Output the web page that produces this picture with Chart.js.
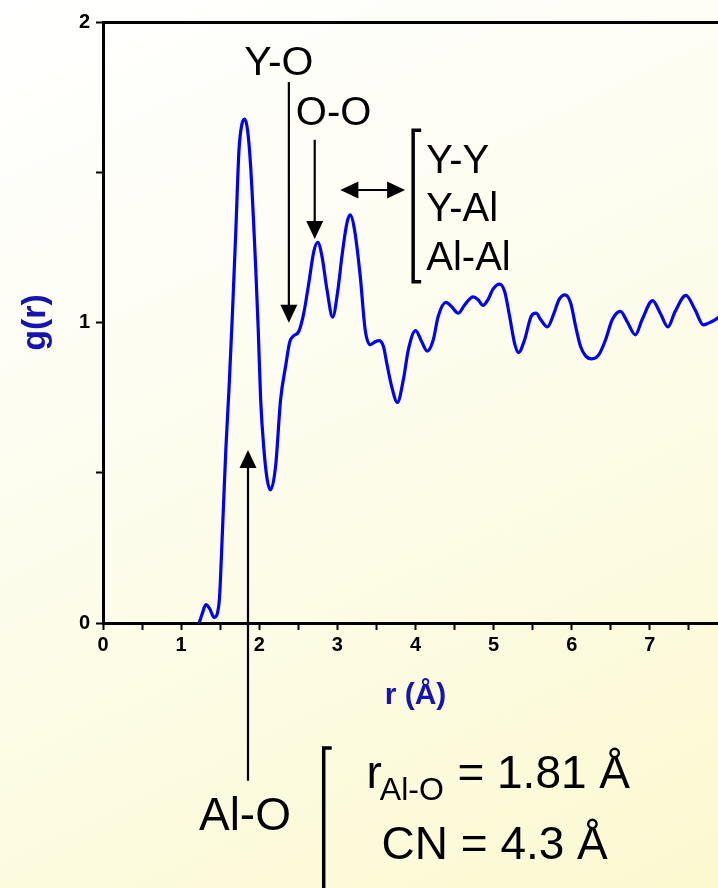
<!DOCTYPE html>
<html>
<head>
<meta charset="utf-8">
<script src="https://cdn.jsdelivr.net/npm/chart.js@4"></script>
<style>
  html, body { margin: 0; padding: 0; overflow: hidden; width: 718px; height: 888px; }
  body { background: linear-gradient(155deg, #ffffff 0%, #fdfdf0 40%, #fcf9d0 100%); }
  #wrap { width: 731px; height: 888px; }
</style>
</head>
<body>
<div id="wrap"><canvas id="myChart" width="731" height="888"></canvas></div>
<script>
// radial distribution function g(r)
const rValues = [1.231, 1.270, 1.317, 1.365, 1.423, 1.486, 1.528, 1.572, 1.614, 1.656,
  1.699, 1.741, 1.779, 1.814, 1.850, 1.890, 1.954, 1.987, 2.018, 2.060,
  2.102, 2.145, 2.209, 2.273, 2.337, 2.391, 2.442, 2.506, 2.570, 2.634,
  2.698, 2.749, 2.803, 2.867, 2.939, 3.007, 3.058, 3.122, 3.165, 3.220,
  3.293, 3.356, 3.420, 3.484, 3.535, 3.590, 3.632, 3.695, 3.768, 3.844,
  3.908, 4.001, 4.078, 4.150, 4.227, 4.290, 4.389, 4.461, 4.546, 4.631,
  4.737, 4.801, 4.864, 4.928, 4.992, 5.077, 5.141, 5.205, 5.268, 5.319,
  5.396, 5.480, 5.544, 5.604, 5.689, 5.773, 5.837, 5.913, 5.986, 6.050,
  6.113, 6.177, 6.254, 6.347, 6.432, 6.518, 6.623, 6.709, 6.815, 6.900,
  7.035, 7.133, 7.231, 7.324, 7.461, 7.579, 7.685, 7.749, 7.834, 7.95];
const gValues = [0.000, 0.031, 0.061, 0.048, 0.018, 0.068, 0.300, 0.576, 0.786, 1.026,
  1.298, 1.575, 1.661, 1.677, 1.641, 1.519, 1.186, 0.976, 0.743, 0.577,
  0.477, 0.443, 0.521, 0.743, 0.854, 0.936, 0.956, 0.970, 1.031, 1.131,
  1.236, 1.267, 1.220, 1.109, 1.018, 1.109, 1.220, 1.331, 1.358, 1.308,
  1.153, 0.976, 0.926, 0.936, 0.940, 0.920, 0.865, 0.787, 0.734, 0.809,
  0.909, 0.973, 0.937, 0.905, 0.942, 1.020, 1.067, 1.053, 1.031, 1.059,
  1.085, 1.076, 1.057, 1.076, 1.111, 1.128, 1.103, 1.020, 0.931, 0.900,
  0.942, 1.020, 1.031, 1.009, 0.985, 1.031, 1.076, 1.092, 1.065, 0.987,
  0.920, 0.889, 0.879, 0.893, 0.942, 1.009, 1.037, 1.003, 0.959, 1.009,
  1.073, 1.031, 0.985, 1.037, 1.090, 1.042, 0.992, 0.998, 1.009, 1.03];

const xTicks = [0, 1, 2, 3, 4, 5, 6, 7];
const yTicks = [0, 1, 2];

const points = rValues.map((r, i) => ({ x: r, y: gValues[i] }));

const axisBlue = '#1414b4';
const labelFont = 'Arial, "Liberation Sans", sans-serif';

// arrows, brackets and labels placed in data units
const annotations = {
  id: 'annotations',
  afterDraw(chart) {
    const ctx = chart.ctx;
    const xs = chart.scales.x, ys = chart.scales.y;
    const px = v => xs.getPixelForValue(v);
    const py = v => ys.getPixelForValue(v);

    ctx.save();
    ctx.strokeStyle = '#000';
    ctx.fillStyle = '#000';

    function head(x, y, dir) {
      // tip at (x, y)
      const w = 8.5, l = 18;
      ctx.beginPath();
      if (dir === 'down') { ctx.moveTo(x, y); ctx.lineTo(x - w, y - l); ctx.lineTo(x + w, y - l); }
      if (dir === 'up') { ctx.moveTo(x, y); ctx.lineTo(x - w, y + l); ctx.lineTo(x + w, y + l); }
      if (dir === 'left') { ctx.moveTo(x, y); ctx.lineTo(x + l, y - w); ctx.lineTo(x + l, y + w); }
      if (dir === 'right') { ctx.moveTo(x, y); ctx.lineTo(x - l, y - w); ctx.lineTo(x - l, y + w); }
      ctx.closePath();
      ctx.fill();
    }
    function vArrow(x, y0, y1, dir) {
      ctx.lineWidth = 2.2;
      ctx.beginPath();
      ctx.moveTo(px(x), py(y0));
      ctx.lineTo(px(x), py(y1) + (dir === 'down' ? -10 : 10));
      ctx.stroke();
      head(px(x), py(y1), dir);
    }
    function bracket(x, y0, y1, serif) {
      ctx.lineWidth = 3.5;
      ctx.beginPath();
      ctx.moveTo(px(x) + serif, py(y0));
      ctx.lineTo(px(x), py(y0));
      ctx.lineTo(px(x), py(y1));
      ctx.lineTo(px(x) + serif, py(y1));
      ctx.stroke();
    }
    function text(str, x, y, size, align) {
      ctx.font = size + 'px ' + labelFont;
      ctx.textAlign = align || 'left';
      ctx.textBaseline = 'alphabetic';
      ctx.fillText(str, px(x), py(y));
      return ctx.measureText(str).width;
    }

    vArrow(2.379, 1.80, 0.999, 'down');   // Y-O
    vArrow(2.710, 1.608, 1.278, 'down');  // O-O
    vArrow(1.856, -0.525, 0.576, 'up');   // Al-O

    // double arrow
    ctx.lineWidth = 2.2;
    ctx.beginPath();
    ctx.moveTo(px(3.038) + 10, py(1.441));
    ctx.lineTo(px(3.867) - 10, py(1.441));
    ctx.stroke();
    head(px(3.038), py(1.441), 'left');
    head(px(3.867), py(1.441), 'right');

    bracket(3.97, 1.64, 1.136, 8);
    bracket(2.825, -0.416, -0.905, 8);

    text('Y-O', 2.251, 1.824, 41, 'center');
    text('O-O', 2.952, 1.658, 40, 'center');
    text('Y-Y', 4.138, 1.498, 40);
    text('Y-Al', 4.138, 1.338, 40);
    text('Al-Al', 4.138, 1.175, 40);
    text('Al-O', 1.817, -0.690, 46, 'center');

    const rw = text('r', 3.373, -0.548, 46);
    ctx.font = '32px ' + labelFont;
    ctx.textAlign = 'left';
    ctx.fillText('Al-O', px(3.373) + rw - 2, py(-0.588));
    text('= 1.81 Å', 4.536, -0.548, 46);
    text('CN = 4.3 Å', 3.565, -0.787, 46);

    ctx.restore();
  }
};

const data = {
  datasets: [{
    label: 'g(r)',
    data: points,
    borderColor: '#0000ff',
    borderWidth: 3.2,
    pointRadius: 0,
    cubicInterpolationMode: 'monotone',
    fill: false,
    xAxisID: 'x',
    yAxisID: 'y',
  }],
};

const config = {
  type: 'line',
  data: data,
  options: {
    responsive: false,
    animation: false,
    layout: { padding: { top: 22, left: 0, right: 0, bottom: 0 } },
    plugins: {
      legend: { display: false },
      tooltip: { enabled: false },
    },
    scales: {
      x: {
        type: 'linear',
        position: 'bottom',
        min: 0,
        max: 8,
        afterFit: s => { s.height = 265; },
        afterBuildTicks: s => { s.ticks = []; for (let v = 0; v <= 8; v += 0.5) s.ticks.push({ value: v }); },
        ticks: {
          autoSkip: false,
          maxRotation: 0,
          padding: 3,
          color: '#000',
          font: { family: labelFont, size: 20, weight: 'bold' },
          callback: v => xTicks.includes(v) ? String(v) : '',
        },
        grid: { drawOnChartArea: false, drawTicks: true, tickLength: 7, tickWidth: 2, color: '#000' },
        border: { display: true, color: '#000', width: 3 },
        title: {
          display: true,
          text: 'r (Å)',
          color: axisBlue,
          font: { family: labelFont, size: 30, weight: 'bold' },
          padding: { top: 0, bottom: 174 },
        },
      },
      x2: {
        type: 'linear',
        position: 'top',
        min: 0,
        max: 8,
        afterFit: s => { s.height = 0; },
        ticks: { display: false },
        grid: { display: false },
        border: { display: true, color: '#000', width: 3 },
      },
      y: {
        type: 'linear',
        min: 0,
        max: 2,
        afterFit: s => { s.width = 103; },
        afterBuildTicks: s => { s.ticks = []; for (let v = 0; v <= 2; v += 0.5) s.ticks.push({ value: v }); },
        ticks: {
          padding: 6,
          color: '#000',
          font: { family: labelFont, size: 20, weight: 'bold' },
          callback: v => yTicks.includes(v) ? String(v) : '',
        },
        grid: { drawOnChartArea: false, drawTicks: true, tickLength: 7, tickWidth: 2, color: '#000' },
        border: { display: true, color: '#000', width: 3 },
        title: {
          display: true,
          text: 'g(r)',
          color: axisBlue,
          font: { family: labelFont, size: 34, weight: 'bold' },
          padding: { top: 15, bottom: 0 },
        },
      },
    },
  },
  plugins: [annotations],
};

const myChart = new Chart(document.querySelector('#myChart').getContext('2d'), config);
</script>
</body>
</html>
